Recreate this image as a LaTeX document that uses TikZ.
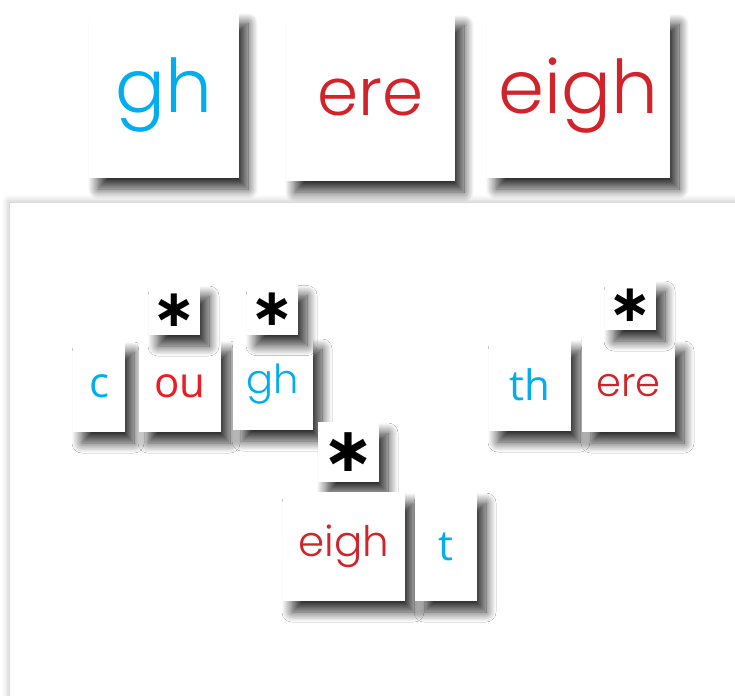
\documentclass[tikz,border=0pt]{standalone}
\usepackage{fontspec}
\setmainfont{Open Sans}
\newfontfamily\handfont{Poppins Light}
\newfontfamily\starfont{DejaVu Sans Bold}
\usetikzlibrary{shadows.blur}
\definecolor{soundblue}{HTML}{00AEEF}
\definecolor{handred}{HTML}{D2232A}
\definecolor{printred}{HTML}{ED1C24}

\begin{document}
\begin{tikzpicture}[x=1pt, y=-1pt,
	card/.style={fill=white, inner sep=0pt, blur shadow={shadow xshift=9pt, shadow yshift=-11pt, shadow blur radius=10pt, shadow blur steps=16, shadow opacity=80}},
	hand/.style={font={\handfont\fontsize{#1}{#1}\selectfont}},
	print/.style={font={\fontsize{#1}{#1}\selectfont}},
	star/.style={card, font={\starfont\fontsize{#1}{#1}\selectfont}, text=black}]
	\useasboundingbox (0,0) rectangle (735,695);
	\fill[white, blur shadow={shadow xshift=-2pt, shadow yshift=2pt, shadow blur radius=6pt, shadow opacity=22}] (10,203) rectangle (790,750);

	\node (gh) [card, hand=74, text=soundblue, minimum width=150pt, minimum height=166pt] at (164,95) {gh};
	\node (ere) [card, hand=66, text=handred, minimum width=169pt, minimum height=167pt] at (370.5,97.5) {ere};
	\node (eigh) [card, hand=74, text=handred, minimum width=183pt, minimum height=165pt] at (578.5,95.5) {eigh};

	\node (c) [card, print=42, text=soundblue, minimum width=52pt, minimum height=91pt] at (99,386.5) {c};
	\node (ou) [card, print=42, text=printred, minimum width=82pt, minimum height=92pt] at (180,386) {ou};
	\node (gh2) [card, hand=40, text=soundblue, minimum width=80pt, minimum height=92pt] at (273,384) {gh};
	\node (star1) [star=52, minimum width=51pt, minimum height=50pt] at (174.5,310) {∗};
	\node (star2) [star=52, minimum width=51pt, minimum height=50pt] at (272.5,309.5) {∗};

	\node (star3) [star=62, minimum width=61pt, minimum height=60pt] at (348.5,452) {∗};
	\node (eigh2) [card, hand=42, text=handred, minimum width=122pt, minimum height=109pt] at (344,546.5) {eigh};
	\node (t) [card, print=42, text=soundblue, minimum width=62pt, minimum height=109pt] at (446,546.5) {t};

	\node (th) [card, print=42, text=soundblue, minimum width=82pt, minimum height=92pt] at (530,385) {th};
	\node (ere2) [card, hand=40, text=handred, minimum width=93pt, minimum height=92pt] at (628.5,386) {ere};
	\node (star4) [star=52, minimum width=51pt, minimum height=50pt] at (630.5,305) {∗};
\end{tikzpicture}
\end{document}
